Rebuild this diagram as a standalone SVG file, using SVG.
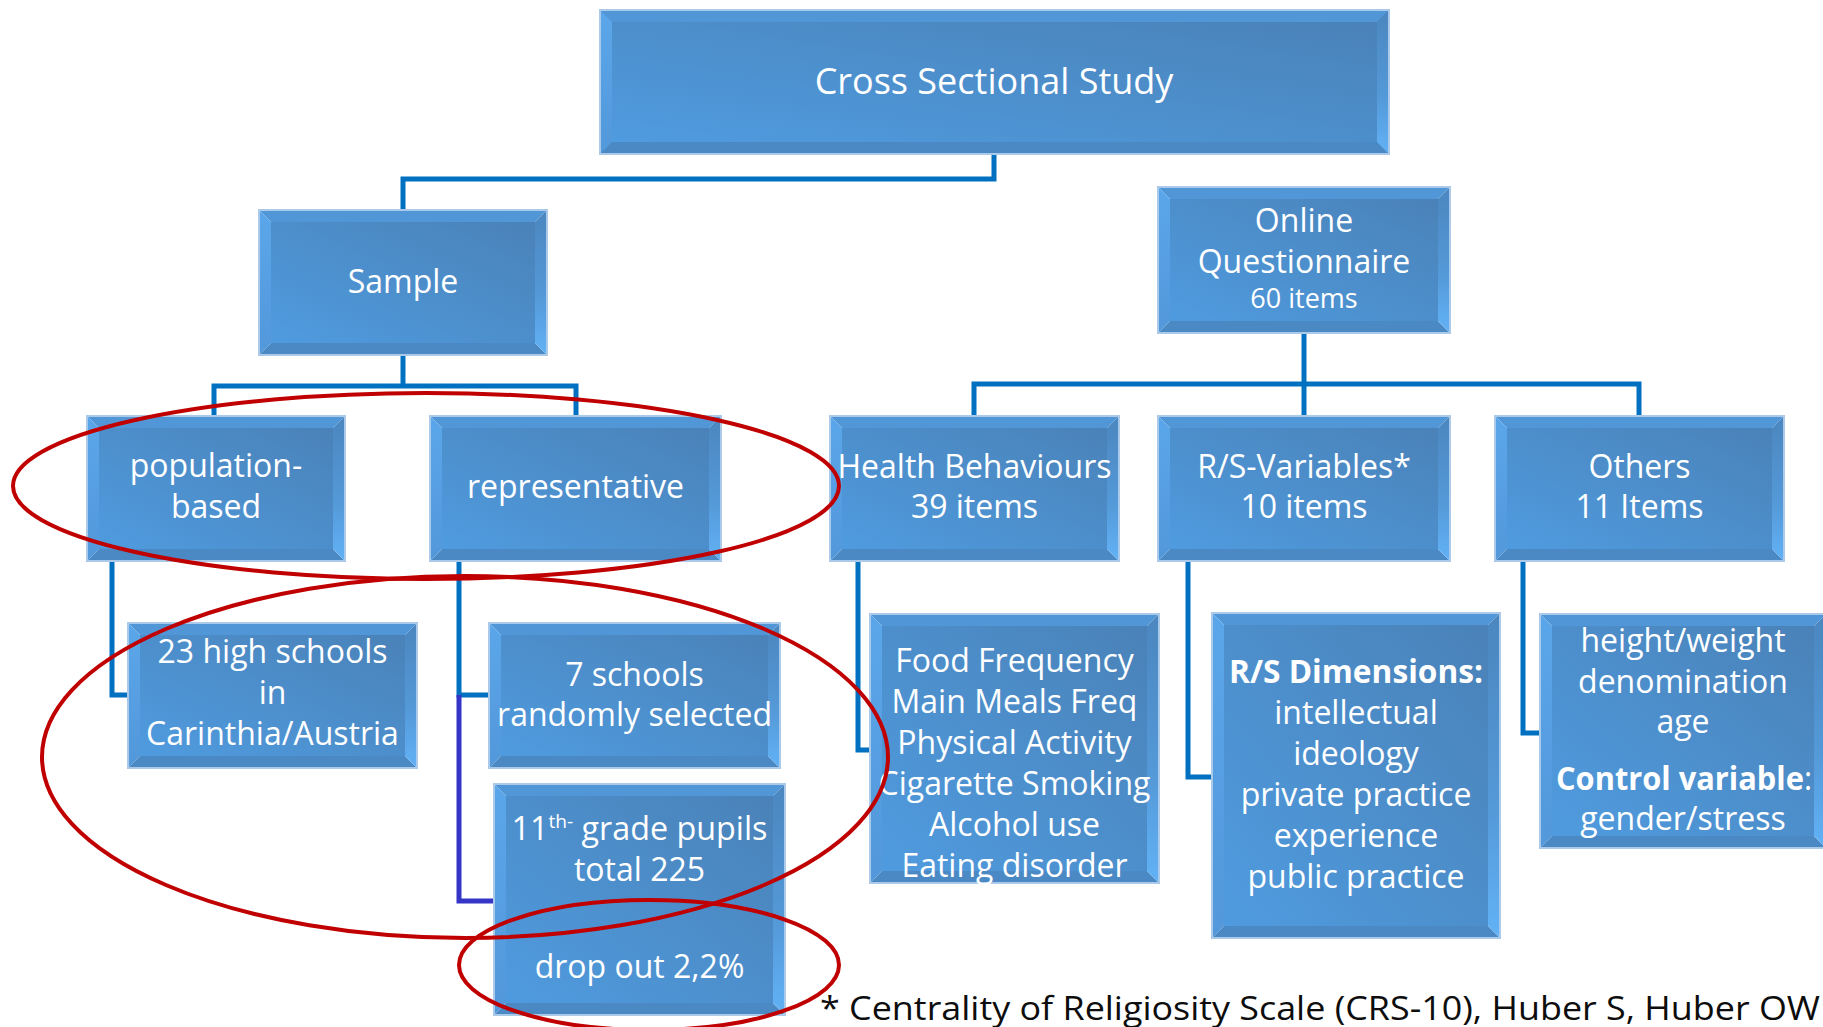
<svg xmlns="http://www.w3.org/2000/svg" width="1823" height="1027" viewBox="0 0 1823 1027">
<defs>
<linearGradient id="gFace" x1="0" y1="1" x2="1" y2="0">
<stop offset="0" stop-color="#4f9bdf"/>
<stop offset="1" stop-color="#4a82b8"/>
</linearGradient>
<linearGradient id="gRight" x1="0" y1="0" x2="0" y2="1">
<stop offset="0" stop-color="#4b86bf"/>
<stop offset="0.6" stop-color="#5499d8"/>
<stop offset="1" stop-color="#62b2f6"/>
</linearGradient>
<linearGradient id="gLeft" x1="0" y1="0" x2="0" y2="1">
<stop offset="0" stop-color="#5ba6ea"/>
<stop offset="1" stop-color="#5298da"/>
</linearGradient>
</defs>
<style>
.face{fill:url(#gFace);}
.bt{fill:#5197d8;}
.bl{fill:url(#gLeft);}
.bb{fill:#4b89c4;}
.br{fill:url(#gRight);}
.frame{fill:none;stroke:#abc9e8;stroke-width:2;}
.t{font-family:"Open Sans","Liberation Sans",sans-serif;font-size:32px;fill:#ffffff;text-anchor:middle;}
.big{font-size:36px;}
.sm{font-size:27px;}
.b{font-weight:bold;}
.conn{fill:none;stroke:#0070c0;stroke-width:5;stroke-linejoin:miter;}
.conn2{fill:none;stroke:#3535c8;stroke-width:5;}
.hl{fill:none;stroke:#c00000;stroke-width:4;}
.foot{font-family:"Open Sans","Liberation Sans",sans-serif;font-size:33px;fill:#0d0d0d;}
</style>

<g id="connectors">
<path class="conn" d="M994 154 V179 H403 V210"/>
<path class="conn" d="M403 355 V386"/>
<path class="conn" d="M214 416 V386 H576 V416"/>
<path class="conn" d="M1304 333 V415"/>
<path class="conn" d="M974 415 V384 H1639 V415"/>
<path class="conn" d="M112 561 V695 H128"/>
<path class="conn" d="M459 561 V695 H489"/>
<path class="conn2" d="M459 695 V901 H494"/>
<path class="conn" d="M858 561 V750 H870"/>
<path class="conn" d="M1188 561 V777 H1212"/>
<path class="conn" d="M1523 561 V733 H1540"/>
</g>

<g id="n-cross">
<rect class="face" x="600" y="10" width="789" height="144"/>
<polygon class="bt" points="600,10 1389,10 1377,22 612,22"/>
<polygon class="bl" points="600,10 612,22 612,142 600,154"/>
<polygon class="bb" points="600,154 612,142 1377,142 1389,154"/>
<polygon class="br" points="1389,10 1389,154 1377,142 1377,22"/>
<rect class="face" x="612" y="22" width="765" height="120"/>
<rect class="frame" x="600" y="10" width="789" height="144"/>
<text class="t big" x="994" y="94">Cross Sectional Study</text>
</g>

<g id="n-sample">
<polygon class="bt" points="259,210 547,210 535,222 271,222"/>
<polygon class="bl" points="259,210 271,222 271,343 259,355"/>
<polygon class="bb" points="259,355 271,343 535,343 547,355"/>
<polygon class="br" points="547,210 547,355 535,343 535,222"/>
<rect class="face" x="271" y="222" width="264" height="121"/>
<rect class="frame" x="259" y="210" width="288" height="145"/>
<text class="t" x="403" y="293">Sample</text>
</g>

<g id="n-population">
<polygon class="bt" points="87,416 345,416 333,428 99,428"/>
<polygon class="bl" points="87,416 99,428 99,549 87,561"/>
<polygon class="bb" points="87,561 99,549 333,549 345,561"/>
<polygon class="br" points="345,416 345,561 333,549 333,428"/>
<rect class="face" x="99" y="428" width="234" height="121"/>
<rect class="frame" x="87" y="416" width="258" height="145"/>
<text class="t" x="216" y="477">population-</text>
<text class="t" x="216" y="518">based</text>
</g>

<g id="n-representative">
<polygon class="bt" points="430,416 721,416 709,428 442,428"/>
<polygon class="bl" points="430,416 442,428 442,549 430,561"/>
<polygon class="bb" points="430,561 442,549 709,549 721,561"/>
<polygon class="br" points="721,416 721,561 709,549 709,428"/>
<rect class="face" x="442" y="428" width="267" height="121"/>
<rect class="frame" x="430" y="416" width="291" height="145"/>
<text class="t" x="575.5" y="498">representative</text>
</g>

<g id="n-online">
<polygon class="bt" points="1158,187 1450,187 1438,199 1170,199"/>
<polygon class="bl" points="1158,187 1170,199 1170,321 1158,333"/>
<polygon class="bb" points="1158,333 1170,321 1438,321 1450,333"/>
<polygon class="br" points="1450,187 1450,333 1438,321 1438,199"/>
<rect class="face" x="1170" y="199" width="268" height="122"/>
<rect class="frame" x="1158" y="187" width="292" height="146"/>
<text class="t" x="1304" y="232">Online</text>
<text class="t" x="1304" y="273">Questionnaire</text>
<text class="t sm" x="1304" y="308">60 items</text>
</g>

<g id="n-health">
<polygon class="bt" points="830,416 1119,416 1107,428 842,428"/>
<polygon class="bl" points="830,416 842,428 842,549 830,561"/>
<polygon class="bb" points="830,561 842,549 1107,549 1119,561"/>
<polygon class="br" points="1119,416 1119,561 1107,549 1107,428"/>
<rect class="face" x="842" y="428" width="265" height="121"/>
<rect class="frame" x="830" y="416" width="289" height="145"/>
<text class="t" x="974.5" y="478">Health Behaviours</text>
<text class="t" x="974.5" y="518">39 items</text>
</g>

<g id="n-rsvars">
<polygon class="bt" points="1158,416 1450,416 1438,428 1170,428"/>
<polygon class="bl" points="1158,416 1170,428 1170,549 1158,561"/>
<polygon class="bb" points="1158,561 1170,549 1438,549 1450,561"/>
<polygon class="br" points="1450,416 1450,561 1438,549 1438,428"/>
<rect class="face" x="1170" y="428" width="268" height="121"/>
<rect class="frame" x="1158" y="416" width="292" height="145"/>
<text class="t" x="1304" y="478">R/S-Variables*</text>
<text class="t" x="1304" y="518">10 items</text>
</g>

<g id="n-others">
<polygon class="bt" points="1495,416 1784,416 1772,428 1507,428"/>
<polygon class="bl" points="1495,416 1507,428 1507,549 1495,561"/>
<polygon class="bb" points="1495,561 1507,549 1772,549 1784,561"/>
<polygon class="br" points="1784,416 1784,561 1772,549 1772,428"/>
<rect class="face" x="1507" y="428" width="265" height="121"/>
<rect class="frame" x="1495" y="416" width="289" height="145"/>
<text class="t" x="1639.5" y="478">Others</text>
<text class="t" x="1639.5" y="518">11 Items</text>
</g>

<g id="n-highschools">
<polygon class="bt" points="128,623 417,623 405,635 140,635"/>
<polygon class="bl" points="128,623 140,635 140,756 128,768"/>
<polygon class="bb" points="128,768 140,756 405,756 417,768"/>
<polygon class="br" points="417,623 417,768 405,756 405,635"/>
<rect class="face" x="140" y="635" width="265" height="121"/>
<rect class="frame" x="128" y="623" width="289" height="145"/>
<text class="t" x="272.5" y="663">23 high schools</text>
<text class="t" x="272.5" y="704">in</text>
<text class="t" x="272.5" y="745">Carinthia/Austria</text>
</g>

<g id="n-sevenschools">
<polygon class="bt" points="489,623 780,623 768,635 501,635"/>
<polygon class="bl" points="489,623 501,635 501,756 489,768"/>
<polygon class="bb" points="489,768 501,756 768,756 780,768"/>
<polygon class="br" points="780,623 780,768 768,756 768,635"/>
<rect class="face" x="501" y="635" width="267" height="121"/>
<rect class="frame" x="489" y="623" width="291" height="145"/>
<text class="t" x="634.5" y="686">7 schools</text>
<text class="t" x="634.5" y="726">randomly selected</text>
</g>

<g id="n-pupils">
<polygon class="bt" points="494,784 785,784 773,796 506,796"/>
<polygon class="bl" points="494,784 506,796 506,1003 494,1015"/>
<polygon class="bb" points="494,1015 506,1003 773,1003 785,1015"/>
<polygon class="br" points="785,784 785,1015 773,1003 773,796"/>
<rect class="face" x="506" y="796" width="267" height="207"/>
<rect class="frame" x="494" y="784" width="291" height="231"/>
<text class="t" x="639.5" y="840" textLength="256" lengthAdjust="spacingAndGlyphs">11<tspan font-size="19" dy="-12">th-</tspan><tspan dy="12"> grade  pupils</tspan></text>
<text class="t" x="639.5" y="881">total 225</text>
<text class="t" x="639.5" y="978">drop out 2,2%</text>
</g>

<g id="n-food">
<polygon class="bt" points="870,614 1159,614 1147,626 882,626"/>
<polygon class="bl" points="870,614 882,626 882,871 870,883"/>
<polygon class="bb" points="870,883 882,871 1147,871 1159,883"/>
<polygon class="br" points="1159,614 1159,883 1147,871 1147,626"/>
<rect class="face" x="882" y="626" width="265" height="245"/>
<rect class="frame" x="870" y="614" width="289" height="269"/>
<text class="t" x="1014.5" y="672">Food Frequency</text>
<text class="t" x="1014.5" y="713">Main Meals Freq</text>
<text class="t" x="1014.5" y="754">Physical Activity</text>
<text class="t" x="1014.5" y="795">Cigarette Smoking</text>
<text class="t" x="1014.5" y="836">Alcohol use</text>
<text class="t" x="1014.5" y="877">Eating disorder</text>
</g>

<g id="n-rsdim">
<polygon class="bt" points="1212,613 1500,613 1488,625 1224,625"/>
<polygon class="bl" points="1212,613 1224,625 1224,926 1212,938"/>
<polygon class="bb" points="1212,938 1224,926 1488,926 1500,938"/>
<polygon class="br" points="1500,613 1500,938 1488,926 1488,625"/>
<rect class="face" x="1224" y="625" width="264" height="301"/>
<rect class="frame" x="1212" y="613" width="288" height="325"/>
<text class="t b" x="1356" y="683" textLength="254" lengthAdjust="spacingAndGlyphs">R/S Dimensions:</text>
<text class="t" x="1356" y="724">intellectual</text>
<text class="t" x="1356" y="765">ideology</text>
<text class="t" x="1356" y="806">private practice</text>
<text class="t" x="1356" y="847">experience</text>
<text class="t" x="1356" y="888">public practice</text>
</g>

<g id="n-othersdetail">
<polygon class="bt" points="1540,614 1826,614 1814,626 1552,626"/>
<polygon class="bl" points="1540,614 1552,626 1552,836 1540,848"/>
<polygon class="bb" points="1540,848 1552,836 1814,836 1826,848"/>
<polygon class="br" points="1826,614 1826,848 1814,836 1814,626"/>
<rect class="face" x="1552" y="626" width="262" height="210"/>
<rect class="frame" x="1540" y="614" width="286" height="234"/>
<text class="t" x="1683" y="652">height/weight</text>
<text class="t" x="1683" y="693">denomination</text>
<text class="t" x="1683" y="733">age</text>
<text class="t" x="1684" y="790" textLength="256" lengthAdjust="spacingAndGlyphs"><tspan class="b">Control variable</tspan>:</text>
<text class="t" x="1683" y="830">gender/stress</text>
</g>

<g id="highlights">
<ellipse class="hl" cx="426" cy="486" rx="413" ry="93"/>
<ellipse class="hl" cx="465" cy="757" rx="423" ry="181"/>
<ellipse class="hl" cx="649" cy="965" rx="190" ry="65"/>
</g>

<text class="foot" x="820" y="1020" textLength="1000" lengthAdjust="spacingAndGlyphs">* Centrality of Religiosity Scale (CRS-10), Huber S, Huber OW</text>
</svg>
